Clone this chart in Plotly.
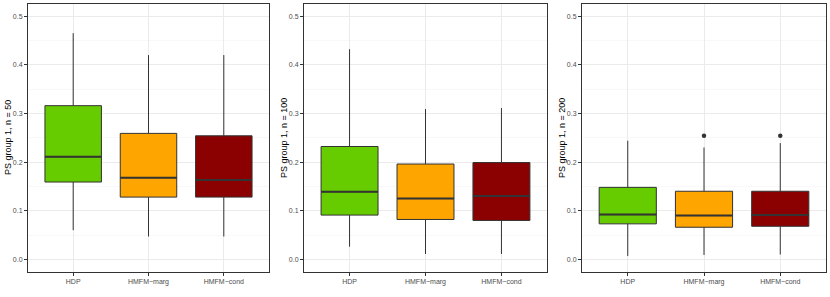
import plotly.graph_objects as go

W, H = 830, 297
methods = ["HDP", "HMFM\u2212marg", "HMFM\u2212cond"]
colors = ["#66CC00", "#FFA500", "#8B0000"]
panel_titles = ["PS group 1, n = 50", "PS group 1, n = 100", "PS group 1, n = 200"]

# per panel: lists per method
lower = [[0.060, 0.047, 0.047], [0.026, 0.011, 0.011], [0.007, 0.009, 0.010]]
q1 = [[0.159, 0.128, 0.128], [0.091, 0.082, 0.080], [0.073, 0.066, 0.068]]
median = [[0.211, 0.168, 0.163], [0.139, 0.125, 0.130], [0.092, 0.090, 0.091]]
q3 = [[0.316, 0.259, 0.254], [0.232, 0.196, 0.199], [0.148, 0.140, 0.140]]
upper = [[0.465, 0.420, 0.420], [0.432, 0.309, 0.311], [0.244, 0.230, 0.239]]
outliers = [[[], [], []], [[], [], []], [[], [0.254], [0.254]]]

yticks = [0.0, 0.1, 0.2, 0.3, 0.4, 0.5]
ytick_text = ["0.0", "0.1", "0.2", "0.3", "0.4", "0.5"]

panels_px = [(28, 269), (304, 547), (582, 826)]
top_px, bot_px = 4, 272
box_w = 0.75

fig = go.Figure()
shapes = []
for p in range(3):
    xa = "x" if p == 0 else f"x{p+1}"
    ya = "y" if p == 0 else f"y{p+1}"
    for m in range(3):
        fig.add_trace(go.Box(
            x=[methods[m]], q1=[q1[p][m]], median=[median[p][m]], q3=[q3[p][m]],
            lowerfence=[lower[p][m]], upperfence=[upper[p][m]],
            fillcolor=colors[m], line=dict(color="#333333", width=1),
            whiskerwidth=0, width=box_w, boxpoints=False,
            showlegend=False, xaxis=xa, yaxis=ya, hoverinfo="skip"))
        # thicker median line (ggplot fatten)
        shapes.append(dict(type="line", xref=xa, yref=ya,
                           x0=m - box_w / 2, x1=m + box_w / 2,
                           y0=median[p][m], y1=median[p][m],
                           line=dict(color="#333333", width=2)))
        if outliers[p][m]:
            fig.add_trace(go.Scatter(
                x=[methods[m]] * len(outliers[p][m]), y=outliers[p][m], mode="markers",
                marker=dict(color="#333333", size=4.5), showlegend=False,
                xaxis=xa, yaxis=ya, hoverinfo="skip"))

layout = dict(width=W, height=H, margin=dict(l=0, r=0, t=0, b=0, autoexpand=False),
              plot_bgcolor="white", paper_bgcolor="white",
              font=dict(family="Liberation Sans, Arial, sans-serif"))
annotations = []
for p in range(3):
    xl, xr = panels_px[p]
    sfx = "" if p == 0 else str(p + 1)
    layout["xaxis" + sfx] = dict(
        domain=[xl / W, xr / W], anchor="y" + sfx, type="category",
        categoryorder="array", categoryarray=methods, range=[-0.6, 2.6],
        showgrid=True, gridcolor="#EBEBEB", gridwidth=1, automargin=False,
        showline=True, linecolor="#333333", linewidth=1, mirror=True,
        ticks="outside", ticklen=3, tickcolor="#333333",
        tickfont=dict(size=7, color="#4D4D4D"), zeroline=False)
    layout["yaxis" + sfx] = dict(
        domain=[1 - bot_px / H, 1 - top_px / H], anchor="x" + sfx,
        range=[-0.026, 0.525], tickvals=yticks, ticktext=ytick_text, automargin=False,
        showgrid=True, gridcolor="#EBEBEB", gridwidth=1,
        minor=dict(showgrid=True, gridcolor="#F3F3F3", gridwidth=0.6, dtick=0.05, tick0=0.05),
        showline=True, linecolor="#333333", linewidth=1, mirror=True,
        ticks="outside", ticklen=3, tickcolor="#333333",
        tickfont=dict(size=7, color="#4D4D4D"), zeroline=False)
    annotations.append(dict(
        text=panel_titles[p], textangle=-90, showarrow=False,
        xref="paper", yref="paper", x=(xl - 20) / W, y=1 - ((top_px + bot_px) / 2) / H,
        xanchor="center", yanchor="middle", font=dict(size=9, color="black")))
layout["annotations"] = annotations
layout["shapes"] = shapes
fig.update_layout(**layout)
fig.write_html("out.html", config={"displayModeBar": False, "staticPlot": True},
               post_script="document.body.style.margin='0';document.body.style.overflow='hidden';")
